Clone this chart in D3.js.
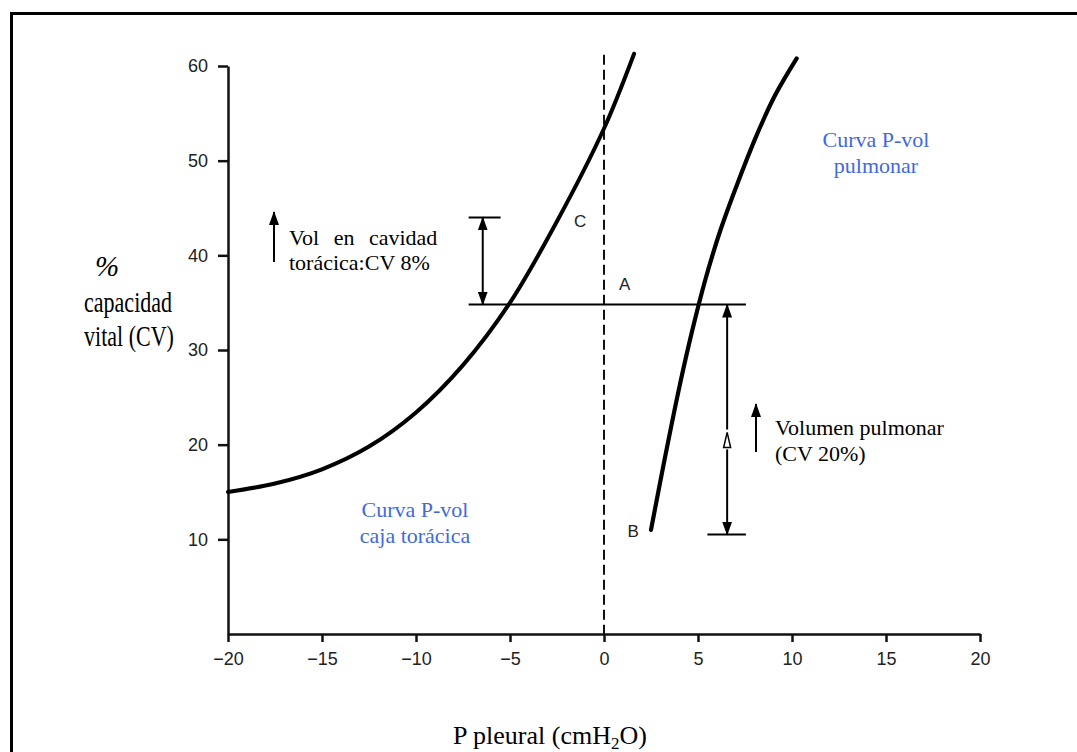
<!DOCTYPE html>
<html><head><meta charset="utf-8">
<script src="https://cdn.jsdelivr.net/npm/d3@7/dist/d3.min.js"></script>
<style>body{margin:0;background:#fff}svg{display:block}</style>
</head><body>
<svg id="c" width="1077" height="752"></svg>
<script>
// ---- data ----
const xTicks = [-20, -15, -10, -5, 0, 5, 10, 15, 20];
const yTicks = [10, 20, 30, 40, 50, 60];
// chest wall curve (Curva P-vol caja torácica)
const chestX = [-20, -17.5, -15, -12.5, -10, -7.5, -5, -2.5, 0, 1.6];
const chestY = [15, 15.9, 17.4, 19.8, 23.4, 28.4, 35, 43.6, 53.4, 61.3];
// lung curve (Curva P-vol pulmonar)
const lungX = [2.5, 3.2, 4.0, 4.7, 5.4, 6.2, 7.1, 8.1, 9.1, 10.25];
const lungY = [11, 18.2, 26.0, 32.1, 37.5, 42.7, 47.6, 52.6, 56.9, 60.8];
// reference levels
const levelA = 34.8, levelTop = 44, levelBottom = 10.5;

const svg = d3.select("#c");
const x = d3.scaleLinear().domain([-20, 20]).range([228, 980]);
const y = d3.scaleLinear().domain([0, 60]).range([634, 66]);

// frame
svg.append("path").attr("d", "M11.5,760 V13.5 H1090").attr("fill","none").attr("stroke","#000").attr("stroke-width",3);

const tickFont = "'Liberation Sans', Arial, sans-serif";
const serif = "'Liberation Serif', 'Times New Roman', serif";

// axes
const gy = svg.append("g").attr("transform", `translate(${x(-20)},0)`)
  .call(d3.axisLeft(y).tickValues(yTicks).tickSize(10).tickSizeOuter(0).tickPadding(10));
const gx = svg.append("g").attr("transform", `translate(0,${y(0)})`)
  .call(d3.axisBottom(x).tickValues(xTicks).tickSize(8).tickSizeOuter(0).tickPadding(10)
    .tickFormat(d => d < 0 ? "\u2212" + Math.abs(d) : d));
[gy, gx].forEach(g => {
  g.attr("font-size", null);
  g.selectAll("path,line").attr("stroke", "#111").attr("stroke-width", 2.5);
  g.selectAll("text").attr("font-family", tickFont).style("font-size", "18px").attr("fill", "#222");
});

// dashed zero line
svg.append("line").attr("x1", x(0)).attr("x2", x(0)).attr("y1", y(61.2)).attr("y2", y(0))
  .attr("stroke", "#111").attr("stroke-width", 2).attr("stroke-dasharray", "10,5");

// curves
const line = d3.line().x(d => x(d[0])).y(d => y(d[1])).curve(d3.curveCatmullRom.alpha(0.5));
svg.append("path").attr("d", line(chestX.map((v, i) => [v, chestY[i]])))
  .attr("fill", "none").attr("stroke", "#000").attr("stroke-width", 4).attr("stroke-linecap","round");
svg.append("path").attr("d", line(lungX.map((v, i) => [v, lungY[i]])))
  .attr("fill", "none").attr("stroke", "#000").attr("stroke-width", 4.2).attr("stroke-linecap","round");

// markers
const defs = svg.append("defs");
defs.append("marker").attr("id", "ah").attr("viewBox", "0 0 14 10").attr("refX", 13).attr("refY", 5)
  .attr("markerWidth", 14).attr("markerHeight", 10).attr("markerUnits","userSpaceOnUse").attr("orient", "auto-start-reverse")
  .append("path").attr("d", "M0,0 L14,5 L0,10 Z").attr("fill", "#000");

const seg = (x1, y1, x2, y2, w) => svg.append("line")
  .attr("x1", x(x1)).attr("y1", y(y1)).attr("x2", x(x2)).attr("y2", y(y2))
  .attr("stroke", "#000").attr("stroke-width", w || 2);

// horizontal A line
seg(-7.2, levelA, 7.55, levelA, 2);
// top short line
seg(-7.2, levelTop, -5.5, levelTop, 2);
// bottom short line
seg(5.5, levelBottom, 7.55, levelBottom, 2);
// left double arrow
seg(-6.45, levelTop, -6.45, levelA, 2).attr("marker-start", "url(#ah)").attr("marker-end", "url(#ah)");
// right double arrow with small delta in the middle
seg(6.55, levelA, 6.55, 21.6, 2).attr("marker-start", "url(#ah)");
seg(6.55, 19.5, 6.55, levelBottom, 2).attr("marker-end", "url(#ah)");
svg.append("path").attr("d", `M${x(6.55)},${y(21.3)} L${x(6.55)+3.5},${y(19.7)} L${x(6.55)-3.5},${y(19.7)} Z`)
  .attr("fill", "#fff").attr("stroke", "#000").attr("stroke-width", 1.5);

// point letters
const letter = (t, px, py) => svg.append("text").attr("x", px).attr("y", py).text(t)
  .attr("font-family", tickFont).attr("font-size", 17).attr("fill", "#222");
letter("C", x(-1.6), y(43));
letter("A", x(0.8), y(36.3));
letter("B", x(1.25), y(10.2));

// blue labels
const blue = "#4169e1";
const blueText = (lines, cx, cy) => lines.forEach((t, i) => svg.append("text")
  .attr("x", cx).attr("y", cy + i * 26).attr("text-anchor", "middle").text(t)
  .attr("font-family", serif).attr("font-size", 22).attr("fill", blue));
blueText(["Curva P-vol", "pulmonar"], 876, 147);
blueText(["Curva P-vol", "caja torácica"], 415, 517);

// arrows with annotation texts
const upArrow = (px, y1, y2) => svg.append("line").attr("x1", px).attr("x2", px).attr("y1", y1).attr("y2", y2)
  .attr("stroke", "#000").attr("stroke-width", 2).attr("marker-end", "url(#ah)");
upArrow(274, 262, 212);
upArrow(756, 452, 404);

const blk = (t, px, py, ws) => {
  const e = svg.append("text").attr("x", px).attr("y", py).text(t)
    .attr("font-family", serif).attr("font-size", 22).attr("fill", "#000");
  if (ws) e.attr("word-spacing", ws);
  return e;
};
blk("Vol en cavidad", 289, 245, 9);
blk("torácica:CV 8%", 289, 270);
blk("Volumen pulmonar", 775, 435);
blk("(CV 20%)", 775, 461);

// axis titles (slightly condensed serif, as in the reference)
const title = (t, px, py, sx) => svg.append("text")
    .attr("transform", `translate(${px},${py}) scale(${sx},1)`)
    .attr("font-family", serif).attr("font-size", 29).attr("fill", "#000").text(t);
title("%", 95, 276, 1).attr("font-style","italic");
title("capacidad", 84, 312, 0.76);
title("vital (CV)", 84, 346, 0.76);
const xt = svg.append("text").attr("x", 550).attr("y", 744).attr("text-anchor", "middle")
  .attr("font-family", serif).attr("font-size", 26).attr("fill", "#000");
xt.append("tspan").text("P pleural (cmH");
xt.append("tspan").text("2").attr("font-size", 17).attr("dy", 5);
xt.append("tspan").text("O)").attr("dy", -5);
</script>
</body></html>
